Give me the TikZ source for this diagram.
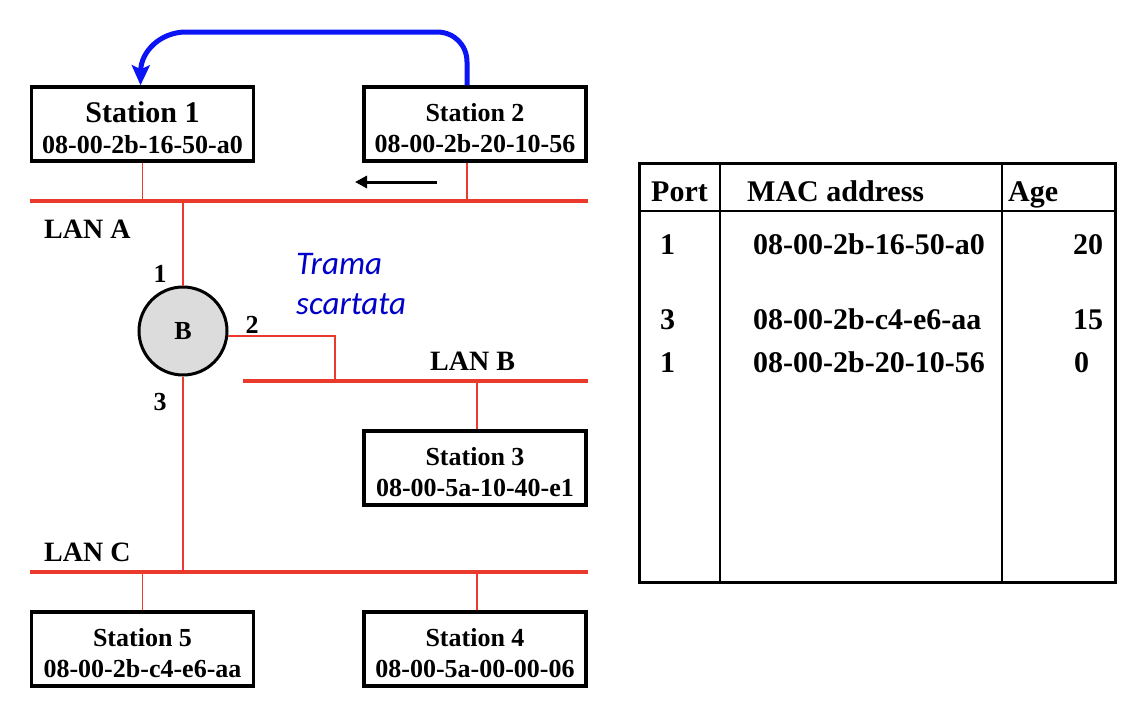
\documentclass[tikz,border=0pt]{standalone}
\usepackage{fontspec}
\setmainfont{Liberation Serif}
\newfontfamily\carlito{Carlito}
\usetikzlibrary{arrows.meta,calc}
\definecolor{lanred}{RGB}{234,58,44}
\definecolor{arrblue}{RGB}{10,20,245}
\definecolor{tramablue}{RGB}{0,0,200}
\definecolor{bridgegray}{RGB}{220,220,220}
\newcommand{\topstrut}[1]{\rule{0pt}{#1}}
\tikzset{
 station/.style={draw, line width=3.5pt, minimum width=222pt, minimum height=74pt, inner sep=0pt, align=center, font=\bfseries\fontsize{26}{31}\selectfont},
 lan/.style={draw=lanred, line width=3.5pt},
 drop/.style={draw=lanred, line width=1.5pt},
 link/.style={draw=lanred, line width=2pt},
 lbl/.style={font=\bfseries\fontsize{28}{32}\selectfont, inner sep=0pt, anchor=base west},
 portlbl/.style={font=\bfseries\fontsize{26}{30}\selectfont, inner sep=0pt, anchor=base},
 tbl/.style={font=\bfseries\fontsize{30}{34}\selectfont, inner sep=0pt, anchor=base west},
 tblframe/.style={line width=3pt},
 tblline/.style={line width=2pt},
}
\begin{document}
\begin{tikzpicture}[x=1pt,y=-1pt]
\useasboundingbox (0,0) rectangle (1146,712);

% stations
\node[station] (st1) at (142.5,124) {\topstrut{29pt}{\fontsize{30}{31}\selectfont Station 1}\\08-00-2b-16-50-a0};
\node[station] (st2) at (475,124) {\topstrut{26pt}Station 2\\08-00-2b-20-10-56};
\node[station] (st3) at (475,468) {\topstrut{26pt}Station 3\\08-00-5a-10-40-e1};
\node[station] (st5) at (142.5,649) {\topstrut{26pt}Station 5\\08-00-2b-c4-e6-aa};
\node[station] (st4) at (475,649) {\topstrut{26pt}Station 4\\08-00-5a-00-00-06};

% LAN end points
\coordinate (lanAw) at (30,201);
\coordinate (lanAe) at (588,201);
\coordinate (lanBw) at (243,381);
\coordinate (lanBe) at (588,381);
\coordinate (lanCw) at (30,572);
\coordinate (lanCe) at (588,572);
\coordinate (lb2) at (335,381);

\draw[lan] (lanAw) -- (lanAe);
\draw[lan] (lanBw) -- (lanBe);
\draw[lan] (lanCw) -- (lanCe);

% drops
\draw[drop] (st1.south) -- (st1.south |- lanAw);
\draw[drop] ([xshift=-8pt]st2.south) -- ([xshift=-8pt]st2.south |- lanAw);
\draw[drop] ([xshift=2pt]st3.north) -- ([xshift=2pt]st3.north |- lanBw);
\draw[drop] (st5.north) -- (st5.north |- lanCw);
\draw[drop] ([xshift=2pt]st4.north) -- ([xshift=2pt]st4.north |- lanCw);

% bridge
\node[circle, draw, line width=3pt, fill=bridgegray, minimum size=88pt, inner sep=0pt,
      font=\bfseries\fontsize{26}{30}\selectfont] (B) at (183,331) {B};
\draw[link] (B.north) -- (B.north |- lanAw);
\draw[link] (B.south) -- (B.south |- lanCw);
\draw[link] (B.-6) -| (lb2);

% labels
\node[lbl] (lA) at (44,238) {LAN A};
\node[lbl] (lB) at (430,370) {LAN B};
\node[lbl] (lC) at (44,561) {LAN C};
\node[portlbl] (p1) at (160,282) {1};
\node[portlbl] (p2) at (252,333) {2};
\node[portlbl] (p3) at (160,410) {3};

\node[font=\carlito\itshape\fontsize{33}{40}\selectfont, text=tramablue, align=left,
      anchor=north west, inner sep=0pt] (tr) at (296,253) {Trama\\scartata};

% arrows
\coordinate (ba1) at (437,182);
\coordinate (ba2) at (355,182);
\draw[line width=3pt, -{Triangle[length=12pt,width=12pt]}] (ba1) -- (ba2);

\coordinate (c1) at (467,62);
\coordinate (c2) at (437,32);
\coordinate (c3) at (186,32);
\draw[arrblue, line width=5pt, -{Stealth[length=20pt,width=18pt,inset=4pt]}]
  ([xshift=-8pt]st2.north) -- (c1) .. controls (467,45) and (454,32) .. (c2) -- (c3)
  .. controls (160,32) and (141,52) .. ([xshift=-2pt]st1.north);

% table
\draw[tblframe] (639,163) rectangle (1115,582);
\coordinate (h1) at (639,211);
\coordinate (h2) at (1115,211);
\coordinate (v1t) at (720,163);
\coordinate (v1b) at (720,582);
\coordinate (v2t) at (1002,163);
\coordinate (v2b) at (1002,582);
\draw[tblline] (h1) -- (h2);
\draw[tblline] (v1t) -- (v1b);
\draw[tblline] (v2t) -- (v2b);

\node[tbl] (hport) at (651,201) {Port};
\node[tbl] (hmac) at (747,201) {MAC address};
\node[tbl] (hage) at (1008,201) {Age};

\node[tbl] (r1p) at (660,254) {1};
\node[tbl] (r1m) at (753,254) {08-00-2b-16-50-a0};
\node[tbl] (r1a) at (1073,254) {20};
\node[tbl] (r2p) at (660,329) {3};
\node[tbl] (r2m) at (753,329) {08-00-2b-c4-e6-aa};
\node[tbl] (r2a) at (1073,329) {15};
\node[tbl] (r3p) at (660,372) {1};
\node[tbl] (r3m) at (753,372) {08-00-2b-20-10-56};
\node[tbl] (r3a) at (1074,372) {0};
\end{tikzpicture}
\end{document}
